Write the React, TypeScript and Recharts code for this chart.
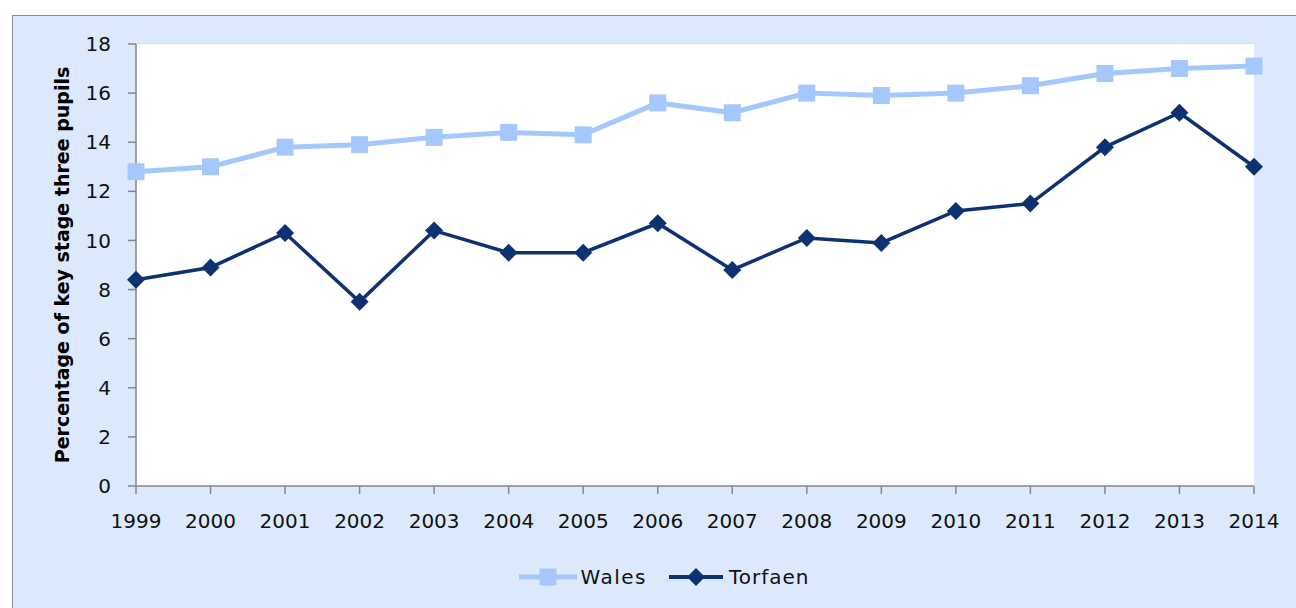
import React from 'react';
import {
  LineChart,
  Line,
  XAxis,
  YAxis,
  CartesianGrid,
  Legend,
} from 'recharts';

const years = ['1999', '2000', '2001', '2002', '2003', '2004', '2005', '2006', '2007', '2008', '2009', '2010', '2011', '2012', '2013', '2014'];
const wales = [12.8, 13.0, 13.8, 13.9, 14.2, 14.4, 14.3, 15.6, 15.2, 16.0, 15.9, 16.0, 16.3, 16.8, 17.0, 17.1];
const torfaen = [8.4, 8.9, 10.3, 7.5, 10.4, 9.5, 9.5, 10.7, 8.8, 10.1, 9.9, 11.2, 11.5, 13.8, 15.2, 13.0];
const yTicks = [0, 2, 4, 6, 8, 10, 12, 14, 16, 18];

const chartData = years.map((year, i) => ({ year, Wales: wales[i], Torfaen: torfaen[i] }));

const WALES_COLOR = '#a4c8fb';
const TORFAEN_COLOR = '#0c3272';
const FONT = '"DejaVu Sans", Verdana, sans-serif';

const SquareDot = (props: any) => {
  const { cx, cy } = props;
  if (cx == null || cy == null) return null;
  return <rect x={cx - 8.5} y={cy - 8.5} width={17} height={17} fill={WALES_COLOR} />;
};

const DiamondDot = (props: any) => {
  const { cx, cy } = props;
  if (cx == null || cy == null) return null;
  const r = 9;
  return (
    <polygon
      points={`${cx},${cy - r} ${cx + r},${cy} ${cx},${cy + r} ${cx - r},${cy}`}
      fill={TORFAEN_COLOR}
    />
  );
};

const LegendContent = () => (
  <div style={{ display: 'flex', justifyContent: 'center', alignItems: 'center', paddingLeft: 62, fontFamily: FONT, fontSize: 20, color: '#111' }}>
    <svg width={58} height={20} style={{ marginRight: 3 }}>
      <line x1={0} y1={10} x2={58} y2={10} stroke={WALES_COLOR} strokeWidth={5} />
      <rect x={20.5} y={1.5} width={17} height={17} fill={WALES_COLOR} />
    </svg>
    <span style={{ letterSpacing: 1.5 }}>Wales</span>
    <svg width={54} height={20} style={{ marginLeft: 22, marginRight: 6 }}>
      <line x1={0} y1={10} x2={54} y2={10} stroke={TORFAEN_COLOR} strokeWidth={4} />
      <polygon points="27,1 36,10 27,19 18,10" fill={TORFAEN_COLOR} />
    </svg>
    <span style={{ letterSpacing: 1 }}>Torfaen</span>
  </div>
);

export default function App() {
  return (
    <div style={{ position: 'fixed', left: 0, top: 0, width: 1296, height: 608, background: '#fff', overflow: 'hidden' }}>
      <div
        style={{
          position: 'absolute',
          left: 12,
          top: 15,
          width: 1300,
          height: 610,
          background: '#dce9fc',
          border: '1px solid #8c8c8c',
        }}
      >
        <LineChart
          width={1283}
          height={592}
          data={chartData}
          margin={{ top: 28, right: 42, left: 0, bottom: 0 }}
        >
          <rect x={123} y={28} width={1118} height={442} fill="#fff" />
          <CartesianGrid vertical={false} stroke="#d9d9d9" strokeWidth={1.5} />
          <XAxis
            dataKey="year"
            tickSize={8}
            tickMargin={20}
            axisLine={{ stroke: '#868686', strokeWidth: 1.5 }}
            tickLine={{ stroke: '#868686', strokeWidth: 1.5 }}
            tick={{ fill: '#111', fontSize: 20, fontFamily: FONT }}
            height={86}
            interval={0}
          />
          <YAxis
            domain={[0, 18]}
            ticks={yTicks}
            width={123}
            tickSize={8}
            tickMargin={17}
            axisLine={{ stroke: '#868686', strokeWidth: 1.5 }}
            tickLine={{ stroke: '#868686', strokeWidth: 1.5 }}
            tick={{ fill: '#111', fontSize: 20, fontFamily: FONT }}
            label={{
              value: 'Percentage of key stage three pupils',
              angle: -90,
              position: 'insideLeft',
              offset: 49,
              style: { textAnchor: 'middle', fontFamily: FONT, fontSize: 19, fontWeight: 'bold', fill: '#000' },
            }}
          />
          <Line
            dataKey="Wales"
            stroke={WALES_COLOR}
            strokeWidth={5}
            dot={<SquareDot />}
            activeDot={false}
            isAnimationActive={false}
          />
          <Line
            dataKey="Torfaen"
            stroke={TORFAEN_COLOR}
            strokeWidth={3.5}
            dot={<DiamondDot />}
            activeDot={false}
            isAnimationActive={false}
          />
          <Legend verticalAlign="bottom" height={36} wrapperStyle={{ bottom: 7 }} content={<LegendContent />} />
        </LineChart>
      </div>
    </div>
  );
}
